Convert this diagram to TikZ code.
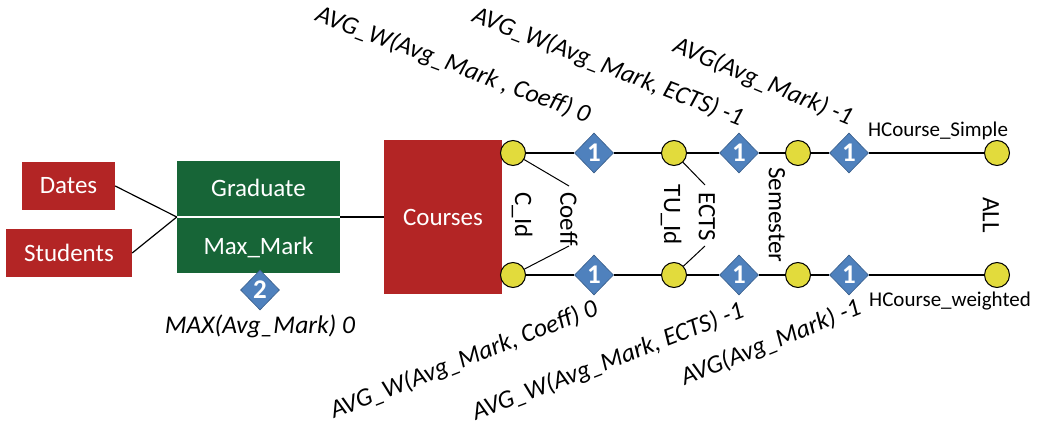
\documentclass[tikz,border=0pt]{standalone}
\usepackage{fontspec}
\setmainfont{Carlito}
\usetikzlibrary{shapes.geometric}
\definecolor{boxred}{RGB}{179,37,37}
\definecolor{boxgreen}{RGB}{23,101,55}
\definecolor{dblue}{RGB}{79,129,189}
\definecolor{dbluedark}{RGB}{56,93,138}
\definecolor{cyell}{RGB}{226,219,60}
\tikzset{
  redbox/.style={fill=boxred,text=white,inner sep=0,font=\fontsize{25}{30}\selectfont},
  lvl/.style={circle,draw=black,line width=1pt,fill=cyell,minimum size=25pt,inner sep=0},
  agg/.style={diamond,draw=dbluedark,line width=0.6pt,fill=dblue,text=white,minimum width=39pt,minimum height=40pt,inner sep=0,font=\fontsize{27}{27}\selectfont\bfseries},
  conn/.style={line width=1.2pt,black},
  aggtxt/.style={inner sep=0,font=\fontsize{25.5}{30}\selectfont\itshape},
  vtxt/.style={inner sep=0,rotate=-90,font=\fontsize{25}{30}\selectfont},
  htxt/.style={inner sep=0,font=\fontsize{21}{24}\selectfont},
}
\begin{document}
\begin{tikzpicture}[x=1pt,y=-1pt]
\useasboundingbox (0,0) rectangle (1042,425);
% left boxes
\node[redbox,minimum width=93pt,minimum height=48pt] (dates) at (68.5,186) {Dates};
\node[redbox,minimum width=126pt,minimum height=48pt] (students) at (69,253) {Students};
\node[fill=boxgreen,minimum width=163pt,minimum height=112pt,inner sep=0] (grad) at (258.5,217) {};
\draw[white,line width=1.2pt] (grad.west) -- (grad.east);
\node[inner sep=0,text=white,font=\fontsize{25}{30}\selectfont] (gradt) at (258.5,188) {Graduate};
\node[inner sep=0,text=white,font=\fontsize{25}{30}\selectfont] (maxm) at (258.5,247) {Max\_Mark};
\node[agg] (d2) at (260,290) {2};
\node[aggtxt] (maxt) at (260,326) {MAX(Avg\_Mark) 0};
\node[redbox,minimum width=118pt,minimum height=154pt] (courses) at (443,217) {Courses};
\draw[conn] (dates.east) -- (grad.west);
\draw[conn] (students.east) -- (grad.west);
\draw[conn] (grad.east) -- (courses.west);
% top row
\node[lvl] (c1) at (513,153) {};
\node[agg] (d1) at (594,153) {1};
\node[lvl] (c2) at (674,153) {};
\node[agg] (d3) at (739,153) {1};
\node[lvl] (c3) at (798,153) {};
\node[agg] (d4) at (849,153) {1};
\node[lvl] (c4) at (997,153) {};
% bottom row
\node[lvl] (b1) at (513,275) {};
\node[agg] (e1) at (594,275) {1};
\node[lvl] (b2) at (674,275) {};
\node[agg] (e3) at (739,275) {1};
\node[lvl] (b3) at (798,275) {};
\node[agg] (e4) at (849,275) {1};
\node[lvl] (b4) at (997,275) {};
\draw[conn] (c1) -- (d1) -- (c2) -- (d3) -- (c3) -- (d4) -- (c4);
\draw[conn] (b1) -- (e1) -- (b2) -- (e3) -- (b3) -- (e4) -- (b4);
% vertical labels
\node[vtxt] (cid) at (522,215) {C\_Id};
\node[vtxt] (coeff) at (569,219) {Coeff};
\node[vtxt] (tuid) at (671,215) {TU\_Id};
\node[vtxt] (ects) at (707,217) {ECTS};
\node[vtxt] (sem) at (777,215) {Semester};
\node[vtxt] (all) at (991,215) {ALL};
\coordinate (k1) at (569,186);
\coordinate (k2) at (569,246);
\coordinate (k3) at (705,185);
\coordinate (k4) at (705,246);
\draw[conn,line width=1pt] (c1) -- (k1);
\draw[conn,line width=1pt] (b1) -- (k2);
\draw[conn,line width=1pt] (c2) -- (k3);
\draw[conn,line width=1pt] (b2) -- (k4);
% hierarchy names
\node[htxt] (hs) at (938,131) {HCourse\_Simple};
\node[htxt] (hw) at (950,301) {HCourse\_weighted};
% aggregation labels
\node[aggtxt,rotate=-20.5] (t1) at (453,65) {AVG\_W(Avg\_Mark , Coeff) 0};
\node[aggtxt,rotate=-21.3] (t2) at (608,67) {AVG\_W(Avg\_Mark, ECTS) -1};
\node[aggtxt,rotate=-22.5] (t3) at (763,82) {AVG(Avg\_Mark) -1};
\node[aggtxt,rotate=21.5] (u1) at (464,360) {AVG\_W(Avg\_Mark, Coeff) 0};
\node[aggtxt,rotate=21] (u2) at (608,362) {AVG\_W(Avg\_Mark, ECTS) -1};
\node[aggtxt,rotate=22] (u3) at (771,343) {AVG(Avg\_Mark) -1};
\end{tikzpicture}
\end{document}
